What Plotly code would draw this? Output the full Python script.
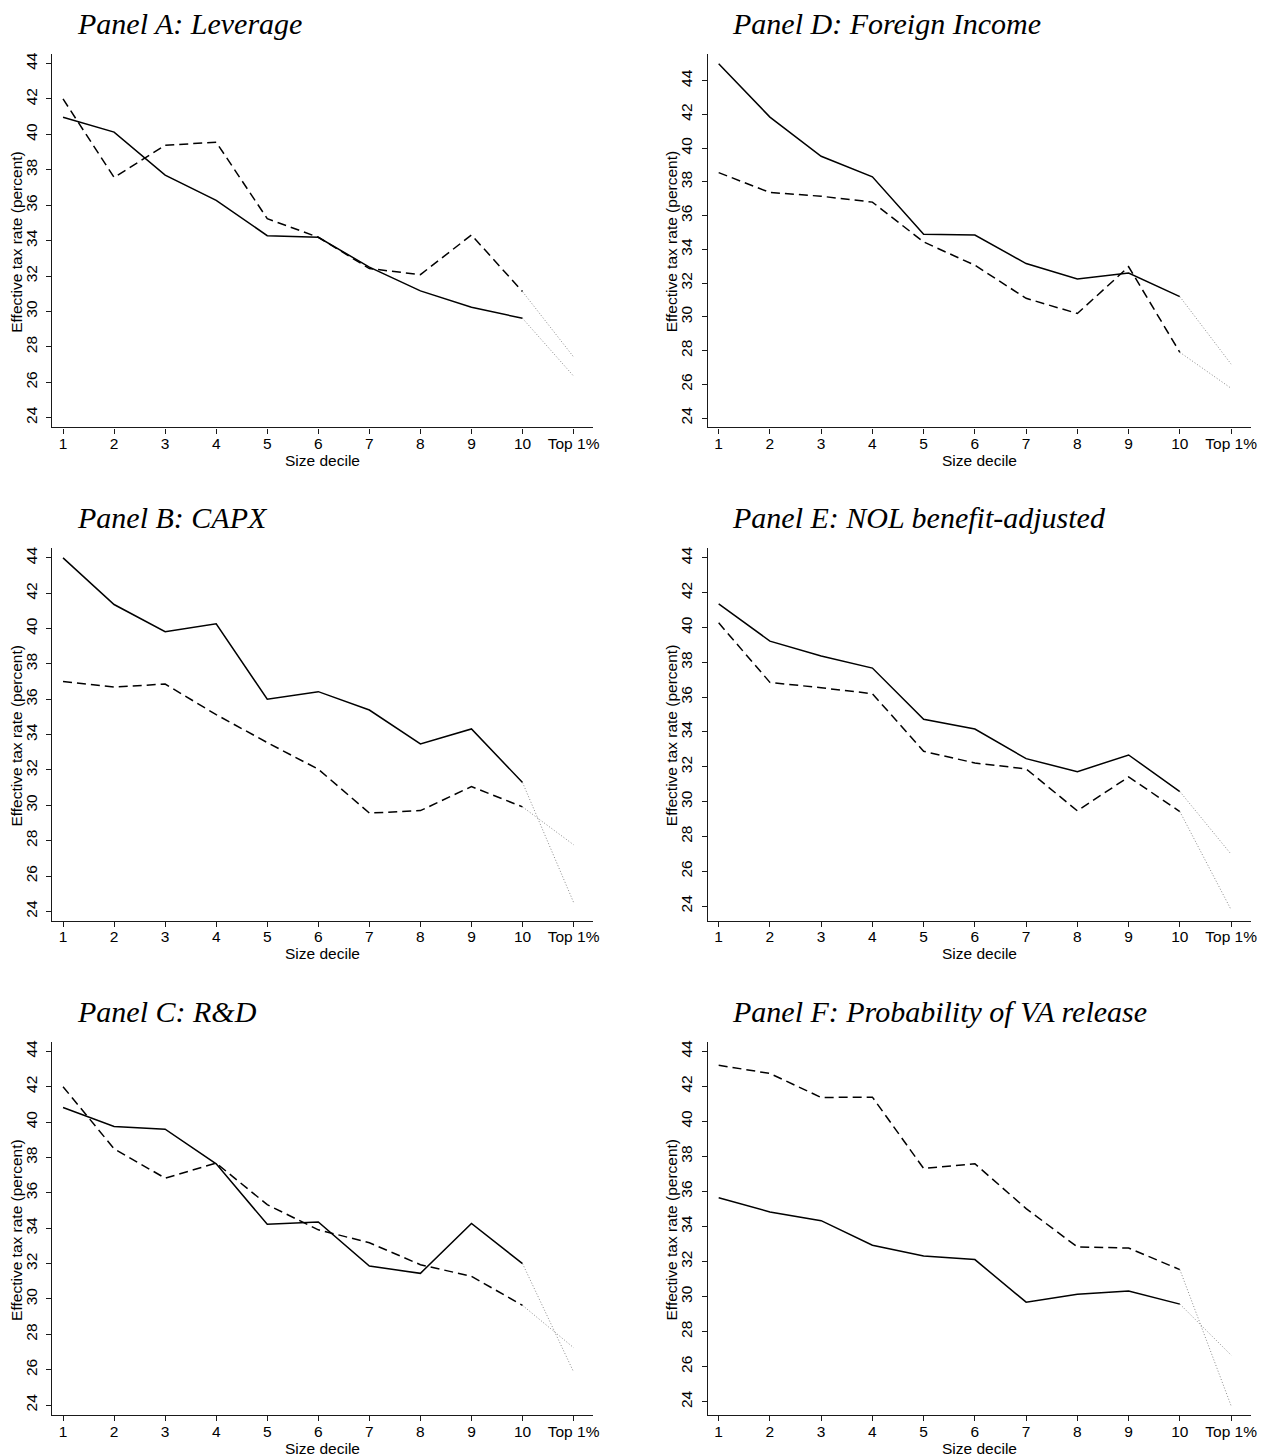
import plotly.graph_objects as go

W, H = 1276, 1456

deciles = ["1", "2", "3", "4", "5", "6", "7", "8", "9", "10", "Top 1%"]
y_ticks = [24, 26, 28, 30, 32, 34, 36, 38, 40, 42, 44]

titles = {
    "A": "Panel A: Leverage",
    "B": "Panel B: CAPX",
    "C": "Panel C: R&D",
    "D": "Panel D: Foreign Income",
    "E": "Panel E: NOL benefit-adjusted",
    "F": "Panel F: Probability of VA release",
}
x_title = "Size decile"
y_title = "Effective tax rate (percent)"

solid_A = [40.97, 40.13, 37.70, 36.27, 34.28, 34.19, 32.50, 31.16, 30.24, 29.61, 26.35]
dash_A = [42.00, 37.57, 39.38, 39.56, 35.24, 34.19, 32.42, 32.08, 34.32, 31.12, 27.43]

solid_B = [44.00, 41.36, 39.82, 40.27, 36.00, 36.43, 35.39, 33.47, 34.32, 31.29, 24.51]
dash_B = [37.00, 36.69, 36.86, 35.13, 33.55, 32.04, 29.56, 29.70, 31.06, 29.91, 27.77]

solid_C = [40.82, 39.75, 39.60, 37.64, 34.22, 34.35, 31.86, 31.45, 34.27, 32.00, 25.88]
dash_C = [42.00, 38.49, 36.83, 37.68, 35.33, 33.91, 33.18, 31.94, 31.28, 29.64, 27.25]

solid_D = [45.00, 41.84, 39.52, 38.30, 34.90, 34.85, 33.16, 32.24, 32.60, 31.20, 27.20]
dash_D = [38.55, 37.37, 37.15, 36.80, 34.44, 33.06, 31.10, 30.20, 32.97, 27.90, 25.77]

solid_E = [41.36, 39.22, 38.36, 37.67, 34.73, 34.17, 32.47, 31.72, 32.68, 30.58, 26.98]
dash_E = [40.27, 36.85, 36.54, 36.20, 32.89, 32.22, 31.88, 29.47, 31.42, 29.43, 23.79]

solid_F = [35.64, 34.83, 34.33, 32.93, 32.32, 32.11, 29.68, 30.13, 30.32, 29.57, 26.66]
dash_F = [43.20, 42.73, 41.36, 41.38, 37.31, 37.58, 35.02, 32.83, 32.77, 31.54, 23.77]

panels = [
    # key, solid, dashed, column, row, y-range
    ("A", solid_A, dash_A, 0, 0, [23.45, 44.56]),
    ("B", solid_B, dash_B, 0, 1, [23.47, 44.56]),
    ("C", solid_C, dash_C, 0, 2, [23.44, 44.51]),
    ("D", solid_D, dash_D, 1, 0, [23.45, 45.60]),
    ("E", solid_E, dash_E, 1, 1, [23.16, 44.57]),
    ("F", solid_F, dash_F, 1, 2, [23.24, 44.51]),
]

col_px = [(52.3, 596.3), (711.0, 1257.0)]
row_px = [(51.7, 426.0), (546.7, 920.0), (1041.7, 1415.0)]
title_x = [75, 733]
title_y = [22, 516, 1011]

fig = go.Figure()
axis_font = dict(family="Liberation Sans, Arial, sans-serif", size=15.5, color="#000")
line_col = "#1a1a1a"

for i, (key, s_vals, d_vals, c, r, yr) in enumerate(panels):
    n = i + 1
    xa = "x" if n == 1 else f"x{n}"
    ya = "y" if n == 1 else f"y{n}"
    # main segments (deciles 1-10)
    fig.add_trace(go.Scatter(x=deciles[:10], y=s_vals[:10], mode="lines",
                             line=dict(color="#000", width=1.5),
                             xaxis=xa, yaxis=ya, showlegend=False))
    fig.add_trace(go.Scatter(x=deciles[:10], y=d_vals[:10], mode="lines",
                             line=dict(color="#000", width=1.5, dash="9px,5px"),
                             xaxis=xa, yaxis=ya, showlegend=False))
    # dotted extension to Top 1%
    fig.add_trace(go.Scatter(x=deciles[9:11], y=s_vals[9:11], mode="lines",
                             line=dict(color="#8a8a8a", width=1, dash="1px,2px"),
                             xaxis=xa, yaxis=ya, showlegend=False))
    fig.add_trace(go.Scatter(x=deciles[9:11], y=d_vals[9:11], mode="lines",
                             line=dict(color="#8a8a8a", width=1, dash="1px,2px"),
                             xaxis=xa, yaxis=ya, showlegend=False))

    x0, x1 = col_px[c]
    top, bot = row_px[r]
    xkey = "xaxis" if n == 1 else f"xaxis{n}"
    ykey = "yaxis" if n == 1 else f"yaxis{n}"
    fig.layout[xkey] = dict(
        domain=[x0 / W, x1 / W], anchor=ya, type="category",
        categoryorder="array", categoryarray=deciles,
        range=[-0.215, 10.39], showgrid=False, zeroline=False,
        showline=True, linecolor=line_col, linewidth=1.2,
        ticks="outside", ticklen=5, tickcolor=line_col, tickwidth=1,
        tickfont=axis_font, ticklabelstandoff=-3,
        fixedrange=True,
    )
    fig.layout[ykey] = dict(
        domain=[1 - bot / H, 1 - top / H], anchor=xa,
        range=yr, tickvals=y_ticks, showgrid=False, zeroline=False,
        showline=True, linecolor=line_col, linewidth=1.2,
        ticks="outside", ticklen=5, tickcolor=line_col, tickwidth=1,
        tickangle=-90, tickfont=axis_font, ticklabelstandoff=3,
        fixedrange=True,
    )
    # panel title
    fig.add_annotation(
        text="<i>" + titles[key].replace("&", "&amp;") + "</i>",
        xref="paper", yref="paper",
        x=title_x[c] / W, y=1 - title_y[r] / H,
        xanchor="left", yanchor="middle", showarrow=False,
        font=dict(family="Liberation Serif, Times New Roman, serif", size=30, color="#000"),
    )
    # x-axis title
    fig.add_annotation(
        text=x_title, xref="paper", yref="paper",
        x=((x0 + x1) / 2) / W, y=1 - (bot + 33) / H,
        xanchor="center", yanchor="middle", showarrow=False, font=axis_font,
    )
    # y-axis title
    fig.add_annotation(
        text=y_title, xref="paper", yref="paper", textangle=-90,
        x=(x0 - 36) / W, y=1 - ((top + bot) / 2 + 1) / H,
        xanchor="center", yanchor="middle", showarrow=False, font=axis_font,
    )

fig.update_layout(
    width=W, height=H,
    margin=dict(l=0, r=0, t=0, b=0),
    paper_bgcolor="white", plot_bgcolor="white",
    showlegend=False,
)

fig.write_html("out.html")
